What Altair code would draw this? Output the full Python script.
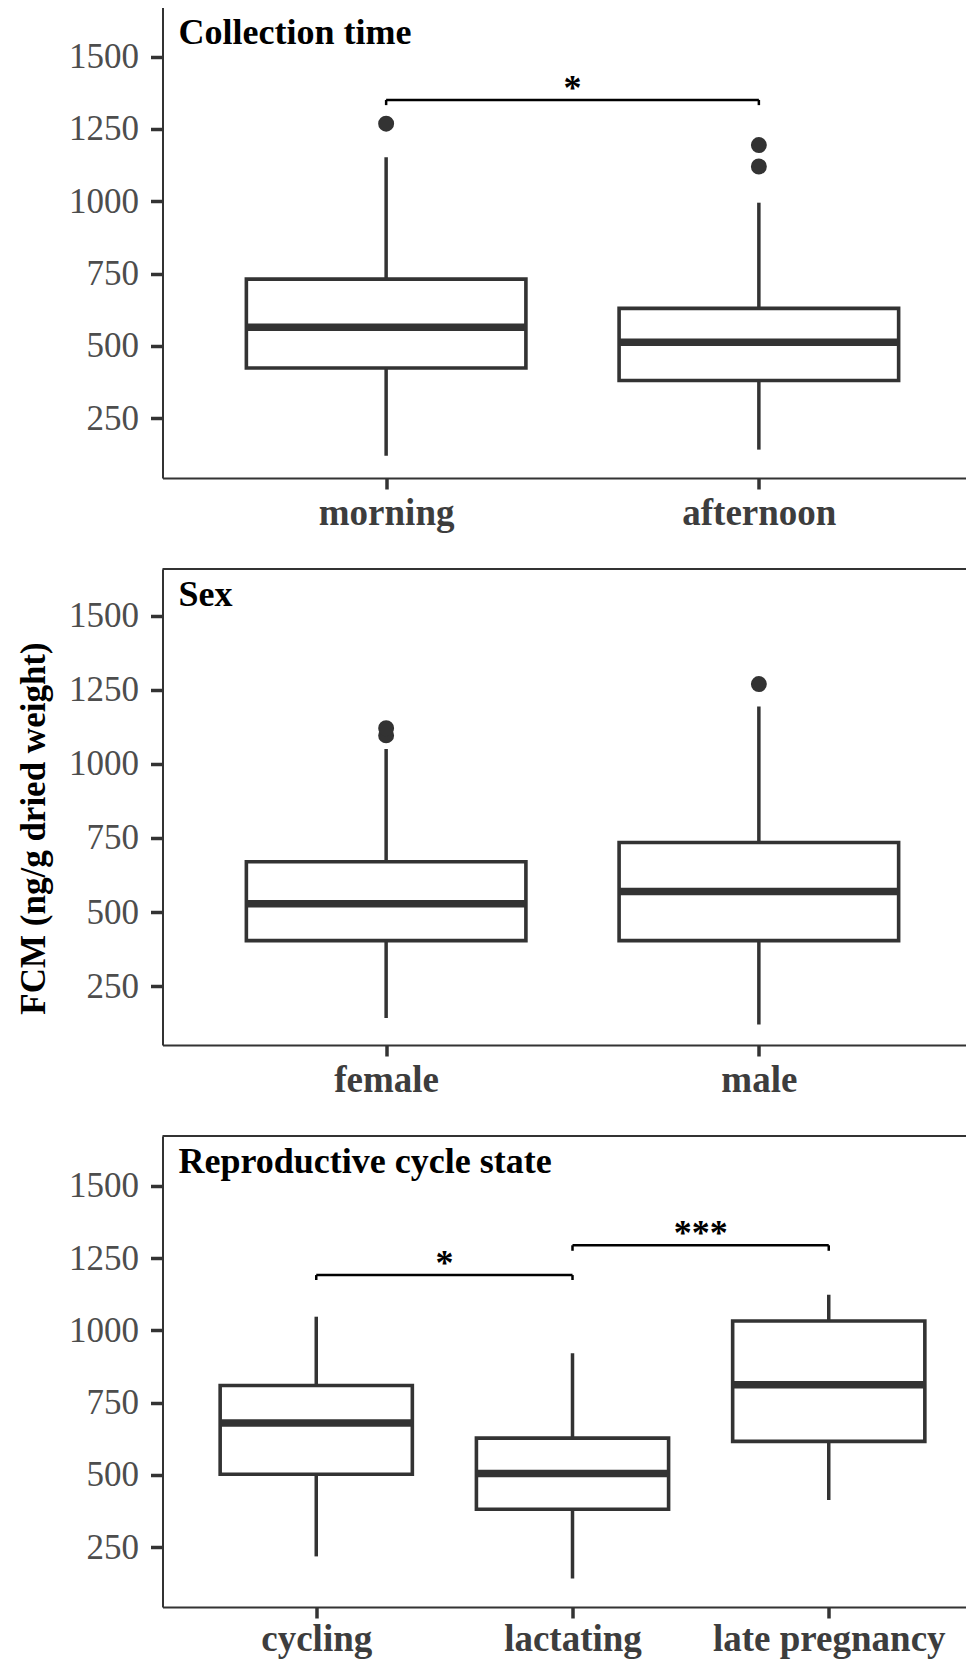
import json
import altair as alt
import pandas as pd

FONT = "Liberation Serif"
DARK = "#333333"
Y_TITLE = "FCM (ng/g dried weight)"
Y_TICKS = [250, 500, 750, 1000, 1250, 1500]

# ---------------- Panel 1: Collection time ----------------
p1_title = "Collection time"
p1_cats = ["morning", "afternoon"]
p1_low = [121, 142]
p1_q1 = [424, 381]
p1_med = [565, 513]
p1_q3 = [731, 630]
p1_high = [1152, 995]
p1_outliers = [[1268], [1194, 1120]]
p1_sig_from = ["morning"]
p1_sig_to = ["afternoon"]
p1_sig_y = [1350]
p1_sig_tip = [1332]
p1_sig_label = ["*"]
p1_domain = [44, 1671]

# ---------------- Panel 2: Sex ----------------
p2_title = "Sex"
p2_cats = ["female", "male"]
p2_low = [143, 121]
p2_q1 = [404, 404]
p2_med = [528, 570]
p2_q3 = [670, 735]
p2_high = [1050, 1193]
p2_outliers = [[1096, 1120], [1269]]
p2_sig_from = []
p2_sig_to = []
p2_sig_y = []
p2_sig_tip = []
p2_sig_label = []
p2_domain = [52, 1657]

# ---------------- Panel 3: Reproductive cycle state ----------------
p3_title = "Reproductive cycle state"
p3_cats = ["cycling", "lactating", "late pregnancy"]
p3_low = [218, 142, 413]
p3_q1 = [502, 381, 616]
p3_med = [679, 505, 812]
p3_q3 = [809, 627, 1032]
p3_high = [1047, 921, 1123]
p3_outliers = [[], [], []]
p3_sig_from = ["cycling", "lactating"]
p3_sig_to = ["lactating", "late pregnancy"]
p3_sig_y = [1191, 1294]
p3_sig_tip = [1174, 1275]
p3_sig_label = ["*", "***"]
p3_domain = [43, 1672]

BOX_HALF = 0.375      # ggplot default box width 0.75
W = 820               # panel width of the original figure (cropped on the right)


def make_panel(title, cats, low, q1, med, q3, high, outliers,
               sig_from, sig_to, sig_y, sig_tip, sig_label,
               domain, height, title_y, title_visible, label_pad):
    n = len(cats)
    pos = list(range(1, n + 1))
    boxes = pd.DataFrame({
        "cat": cats, "pos": pos,
        "x0": [p - BOX_HALF for p in pos], "x1": [p + BOX_HALF for p in pos],
        "low": low, "q1": q1, "med": med, "q3": q3, "high": high,
    })
    out_rows = [{"pos": p, "value": v} for p, vals in zip(pos, outliers) for v in vals]
    outs = pd.DataFrame(out_rows, columns=["pos", "value"])

    idx = {c: i + 1 for i, c in enumerate(cats)}
    sig = pd.DataFrame({
        "p_from": [idx[c] for c in sig_from],
        "p_to": [idx[c] for c in sig_to],
        "y": sig_y, "tip": sig_tip, "label": sig_label,
    })
    sig["mid"] = (sig["p_from"] + sig["p_to"]) / 2
    tips = pd.DataFrame({
        "pos": list(sig["p_from"]) + list(sig["p_to"]),
        "y": list(sig["y"]) * 2,
        "tip": list(sig["tip"]) * 2,
    })

    xscale = alt.Scale(domain=[0.4, n + 0.6], nice=False, zero=False)
    yscale = alt.Scale(domain=domain, nice=False, zero=False)
    xaxis = alt.Axis(
        values=pos,
        labelExpr=json.dumps(cats) + "[datum.value - 1]",
        labelFont=FONT, labelFontSize=37, labelFontWeight="bold",
        labelColor="#3d3d3d", labelPadding=label_pad, tickSize=11, labelLimit=0,
        labelAngle=0, labelFlush=False, labelOverlap=False,
        domain=True, domainColor=DARK, domainWidth=2,
    )
    yaxis = alt.Axis(
        values=Y_TICKS, format="d", labelFont=FONT, labelFontSize=35, labelColor="#4d4d4d",
        labelPadding=12, tickSize=12,
        domain=True, domainColor=DARK, domainWidth=2,
        titleFont=FONT, titleFontSize=35, titleFontWeight="bold", titleColor="black",
        titleX=-129.5, titleY=title_y, titleBaseline="middle", titleAlign="center",
        titleAngle=270, titleOpacity=1 if title_visible else 0,
    )

    def X(f):
        return alt.X(f, type="quantitative", scale=xscale, axis=xaxis, title=None)

    def Y(f):
        return alt.Y(f, type="quantitative", scale=yscale, axis=yaxis, title=Y_TITLE)

    base = alt.Chart(boxes)
    whisk = base.mark_rule(color=DARK, strokeWidth=3.5).encode(
        x=X("pos"), y=Y("low"), y2=alt.Y2("high", title=None))
    box = base.mark_bar(fill="white", stroke=DARK, strokeWidth=3.6).encode(
        x=X("x0"), x2=alt.X2("x1", title=None), y=Y("q1"), y2=alt.Y2("q3", title=None))
    median = base.mark_rule(color=DARK, strokeWidth=7.5).encode(
        x=X("x0"), x2=alt.X2("x1", title=None), y=Y("med"))
    # top border of the panel frame (left/bottom come from the axis domains)
    top = alt.Chart(pd.DataFrame({"k": [0]})).mark_rule(color=DARK, strokeWidth=2).encode(
        x=alt.value(0), x2=alt.value(W), y=alt.value(0))
    layers = [top, whisk, box, median]
    if len(outs):
        layers.append(alt.Chart(outs).mark_circle(size=254, color=DARK, opacity=1).encode(
            x=X("pos"), y=Y("value")))
    if len(sig):
        layers.append(alt.Chart(sig).mark_rule(color="black", strokeWidth=2.5).encode(
            x=X("p_from"), x2=alt.X2("p_to", title=None), y=Y("y")))
        layers.append(alt.Chart(tips).mark_rule(color="black", strokeWidth=2.5).encode(
            x=X("pos"), y=Y("tip"), y2=alt.Y2("y", title=None)))
        layers.append(alt.Chart(sig).mark_text(
            font=FONT, fontSize=36, fontWeight="bold", color="black",
            align="center", baseline="alphabetic", dy=0).encode(
            x=X("mid"), y=Y("y"), text="label:N"))
    layers.append(alt.Chart(pd.DataFrame({"t": [title]})).mark_text(
        font=FONT, fontSize=36, fontWeight="bold", color="black",
        align="left", baseline="alphabetic").encode(
        x=alt.value(16), y=alt.value(37), text="t:N"))
    return alt.layer(*layers).properties(width=W, height=height)


c1 = make_panel(p1_title, p1_cats, p1_low, p1_q1, p1_med, p1_q3, p1_high, p1_outliers,
                p1_sig_from, p1_sig_to, p1_sig_y, p1_sig_tip, p1_sig_label,
                p1_domain, 471, 236, False, 6)
c2 = make_panel(p2_title, p2_cats, p2_low, p2_q1, p2_med, p2_q3, p2_high, p2_outliers,
                p2_sig_from, p2_sig_to, p2_sig_y, p2_sig_tip, p2_sig_label,
                p2_domain, 476, 259, True, 6)
c3 = make_panel(p3_title, p3_cats, p3_low, p3_q1, p3_med, p3_q3, p3_high, p3_outliers,
                p3_sig_from, p3_sig_to, p3_sig_y, p3_sig_tip, p3_sig_label,
                p3_domain, 471, 236, False, 3)

# negative right padding crops the panels at the window edge, as in the original
chart = alt.vconcat(c1, c2, c3, spacing=91, bounds="flush").properties(
    padding={"left": 7.5, "top": -2, "right": -18, "bottom": 7},
    background="white",
).configure_view(
    stroke=None,
).configure_axis(
    grid=False, tickColor=DARK, tickWidth=3.5,
)

chart.save("out.html", embed_options={"renderer": "svg", "actions": False})
